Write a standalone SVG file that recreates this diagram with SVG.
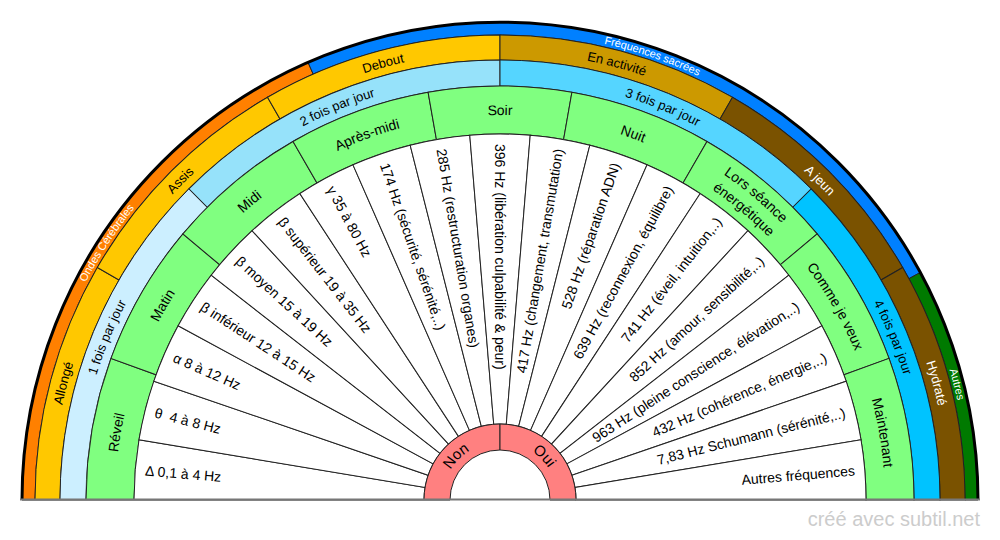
<svg xmlns="http://www.w3.org/2000/svg" width="1000" height="540" viewBox="0 0 1000 540">
<style>
  .s{stroke:#222;stroke-width:1}
  text{font-family:"Liberation Sans",Arial,Helvetica,sans-serif;fill:#000}
  .w{font-size:14px}
  .g{font-size:14px}
  .b{font-size:13px}
  .y{font-size:13px}
  .o{font-size:11px;fill:#fff}
  .r{font-size:15px}
  .wt{fill:#fff}
  .mark{font-size:20px;fill:#cccccc}
</style>
<defs>
  <path id="secW" d="M134,500 A366,366 0 0 1 138.99,439.76 L425.04,487.49 A76,76 0 0 0 424,500 Z"/>
  <path id="secG" d="M86,500 A414,414 0 0 1 110.97,358.40 L156.07,374.82 A366,366 0 0 0 134,500 Z"/>
  <path id="secB" d="M60,500 A440,440 0 0 1 188.87,188.87 L207.26,207.26 A414,414 0 0 0 86,500 Z"/>
  <path id="secY" d="M35,500 A465,465 0 0 1 97.30,267.5 L118.95,280 A440,440 0 0 0 60,500 Z"/>
  <path id="aO" d="M32,500 A468,468 0 0 1 968,500"/>
  <path id="aY" d="M52,500 A448,448 0 0 1 948,500"/>
  <path id="aB" d="M77.5,500 A422.5,422.5 0 0 1 922.5,500"/>
  <path id="aG" d="M115,500 A385,385 0 0 1 885,500"/>
  <path id="aG1" d="M105,500 A395,395 0 0 1 895,500"/>
  <path id="aG2" d="M124,500 A376,376 0 0 1 876,500"/>
  <path id="aR" d="M442,500 A58,58 0 0 1 558,500"/>
</defs>

<!-- Outer ring -->
<g id="ondes-cerebrales">
  <path class="s" fill="#FF8000" d="M22,500 A478,478 0 0 1 307.99,62.26 L313.21,74.17 A465,465 0 0 0 35,500 Z"/>
  <text class="o" text-anchor="middle"><textPath href="#aO" startOffset="18.421%">Ondes Cérébrales</textPath></text>
</g>
<g id="frequences-sacrees">
  <path class="s" fill="#0080FF" d="M307.99,62.26 A478,478 0 0 1 920.39,272.50 L908.95,278.68 A465,465 0 0 0 313.21,74.17 Z"/>
  <text class="o" text-anchor="middle"><textPath href="#aO" startOffset="60.526%">Fréquences sacrées</textPath></text>
</g>
<g id="autres">
  <path class="s" fill="#007A00" d="M920.39,272.50 A478,478 0 0 1 978,500 L965,500 A465,465 0 0 0 908.95,278.68 Z"/>
  <text class="o" text-anchor="middle"><textPath href="#aO" startOffset="92.105%">Autres</textPath></text>
</g>

<!-- Position ring -->
<g id="allonge">
  <use href="#secY" class="s" fill="#FFC800"/>
  <text class="y" text-anchor="middle"><textPath href="#aY" startOffset="8.333%">Allongé</textPath></text>
</g>
<g id="assis">
  <use href="#secY" class="s" fill="#FFC800" transform="rotate(30 500 500)"/>
  <text class="y" text-anchor="middle"><textPath href="#aY" startOffset="25%">Assis</textPath></text>
</g>
<g id="debout">
  <use href="#secY" class="s" fill="#FFC800" transform="rotate(60 500 500)"/>
  <text class="y" text-anchor="middle"><textPath href="#aY" startOffset="41.667%">Debout</textPath></text>
</g>
<g id="en-activite">
  <use href="#secY" class="s" fill="#CC9900" transform="rotate(90 500 500)"/>
  <text class="y" text-anchor="middle"><textPath href="#aY" startOffset="58.333%">En activité</textPath></text>
</g>
<g id="a-jeun">
  <use href="#secY" class="s" fill="#7A5200" transform="rotate(120 500 500)"/>
  <text class="y wt" text-anchor="middle"><textPath href="#aY" startOffset="75%">A jeun</textPath></text>
</g>
<g id="hydrate">
  <use href="#secY" class="s" fill="#7A5200" transform="rotate(150 500 500)"/>
  <text class="y wt" text-anchor="middle"><textPath href="#aY" startOffset="91.667%">Hydraté</textPath></text>
</g>

<!-- Frequency ring -->
<g id="fois-1">
  <use href="#secB" class="s" fill="#CCEFFF"/>
  <text class="b" text-anchor="middle"><textPath href="#aB" startOffset="12.5%">1 fois par jour</textPath></text>
</g>
<g id="fois-2">
  <use href="#secB" class="s" fill="#96E2FA" transform="rotate(45 500 500)"/>
  <text class="b" text-anchor="middle"><textPath href="#aB" startOffset="37.5%">2 fois par jour</textPath></text>
</g>
<g id="fois-3">
  <use href="#secB" class="s" fill="#55D5FF" transform="rotate(90 500 500)"/>
  <text class="b" text-anchor="middle"><textPath href="#aB" startOffset="62.5%">3 fois par jour</textPath></text>
</g>
<g id="fois-4">
  <use href="#secB" class="s" fill="#00C3FF" transform="rotate(135 500 500)"/>
  <text class="b" text-anchor="middle"><textPath href="#aB" startOffset="87.5%">4 fois par jour</textPath></text>
</g>

<!-- Moment ring -->
<g id="reveil">
  <use href="#secG" class="s" fill="#80FF80"/>
  <text class="g" text-anchor="middle"><textPath href="#aG" startOffset="5.556%">Réveil</textPath></text>
</g>
<g id="matin">
  <use href="#secG" class="s" fill="#80FF80" transform="rotate(20 500 500)"/>
  <text class="g" text-anchor="middle"><textPath href="#aG" startOffset="16.667%">Matin</textPath></text>
</g>
<g id="midi">
  <use href="#secG" class="s" fill="#80FF80" transform="rotate(40 500 500)"/>
  <text class="g" text-anchor="middle"><textPath href="#aG" startOffset="27.778%">Midi</textPath></text>
</g>
<g id="apres-midi">
  <use href="#secG" class="s" fill="#80FF80" transform="rotate(60 500 500)"/>
  <text class="g" text-anchor="middle"><textPath href="#aG" startOffset="38.889%">Après-midi</textPath></text>
</g>
<g id="soir">
  <use href="#secG" class="s" fill="#80FF80" transform="rotate(80 500 500)"/>
  <text class="g" text-anchor="middle"><textPath href="#aG" startOffset="50%">Soir</textPath></text>
</g>
<g id="nuit">
  <use href="#secG" class="s" fill="#80FF80" transform="rotate(100 500 500)"/>
  <text class="g" text-anchor="middle"><textPath href="#aG" startOffset="61.111%">Nuit</textPath></text>
</g>
<g id="lors-seance">
  <use href="#secG" class="s" fill="#80FF80" transform="rotate(120 500 500)"/>
  <text class="g" text-anchor="middle"><textPath href="#aG1" startOffset="72.222%">Lors séance</textPath></text>
  <text class="g" text-anchor="middle"><textPath href="#aG2" startOffset="72.222%">énergétique</textPath></text>
</g>
<g id="comme-je-veux">
  <use href="#secG" class="s" fill="#80FF80" transform="rotate(140 500 500)"/>
  <text class="g" text-anchor="middle"><textPath href="#aG" startOffset="83.333%">Comme je veux</textPath></text>
</g>
<g id="maintenant">
  <use href="#secG" class="s" fill="#80FF80" transform="rotate(160 500 500)"/>
  <text class="g" text-anchor="middle"><textPath href="#aG" startOffset="94.444%">Maintenant</textPath></text>
</g>

<!-- Inner white sectors -->
<g id="f00"><use href="#secW" class="s" fill="#fff"/>
  <text class="w" x="145.22" y="470.60" dy="0.35em" transform="rotate(4.7368 145.22 470.60)">Δ 0,1 à 4 Hz</text></g>
<g id="f01"><use href="#secW" class="s" fill="#fff" transform="rotate(9.4737 500 500)"/>
  <text class="w" xml:space="preserve" x="154.89" y="412.61" dy="0.35em" transform="rotate(14.2105 154.89 412.61)">θ  4 à 8 Hz</text></g>
<g id="f02"><use href="#secW" class="s" fill="#fff" transform="rotate(18.9474 500 500)"/>
  <text class="w" x="173.99" y="356.99" dy="0.35em" transform="rotate(23.6842 173.99 356.99)">α 8 à 12 Hz</text></g>
<g id="f03"><use href="#secW" class="s" fill="#fff" transform="rotate(28.4211 500 500)"/>
  <text class="w" x="201.97" y="305.29" dy="0.35em" transform="rotate(33.1579 201.97 305.29)">β inférieur 12 à 15 Hz</text></g>
<g id="f04"><use href="#secW" class="s" fill="#fff" transform="rotate(37.8947 500 500)"/>
  <text class="w" x="238.08" y="258.89" dy="0.35em" transform="rotate(42.6316 238.08 258.89)">β moyen 15 à 19 Hz</text></g>
<g id="f05"><use href="#secW" class="s" fill="#fff" transform="rotate(47.3684 500 500)"/>
  <text class="w" x="281.34" y="219.07" dy="0.35em" transform="rotate(52.1053 281.34 219.07)">β supérieur 19 à 35 Hz</text></g>
<g id="f06"><use href="#secW" class="s" fill="#fff" transform="rotate(56.8421 500 500)"/>
  <text class="w" x="330.56" y="186.91" dy="0.35em" transform="rotate(61.5789 330.56 186.91)">γ 35 à 80 Hz</text></g>
<g id="f07"><use href="#secW" class="s" fill="#fff" transform="rotate(66.3158 500 500)"/>
  <text class="w" x="384.41" y="163.29" dy="0.35em" transform="rotate(71.0526 384.41 163.29)">174 Hz (sécurité, sérénité,..)</text></g>
<g id="f08"><use href="#secW" class="s" fill="#fff" transform="rotate(75.7895 500 500)"/>
  <text class="w" x="441.41" y="148.86" dy="0.35em" transform="rotate(80.5263 441.41 148.86)">285 Hz (restructuration organes)</text></g>
<g id="f09"><use href="#secW" class="s" fill="#fff" transform="rotate(85.2632 500 500)"/>
  <text class="w" x="500" y="144" dy="0.35em" transform="rotate(90 500 144)">396 Hz (libération culpabilité &amp; peur)</text></g>
<g id="f10"><use href="#secW" class="s" fill="#fff" transform="rotate(94.7368 500 500)"/>
  <text class="w" text-anchor="end" x="558.59" y="148.86" dy="0.35em" transform="rotate(-80.5263 558.59 148.86)">417 Hz (changement, transmutation)</text></g>
<g id="f11"><use href="#secW" class="s" fill="#fff" transform="rotate(104.2105 500 500)"/>
  <text class="w" text-anchor="end" x="615.59" y="163.29" dy="0.35em" transform="rotate(-71.0526 615.59 163.29)">528 Hz (réparation ADN)</text></g>
<g id="f12"><use href="#secW" class="s" fill="#fff" transform="rotate(113.6842 500 500)"/>
  <text class="w" text-anchor="end" x="669.44" y="186.91" dy="0.35em" transform="rotate(-61.5789 669.44 186.91)">639 Hz (reconnexion, équilibre)</text></g>
<g id="f13"><use href="#secW" class="s" fill="#fff" transform="rotate(123.1579 500 500)"/>
  <text class="w" text-anchor="end" x="718.66" y="219.07" dy="0.35em" transform="rotate(-52.1053 718.66 219.07)">741 Hz (éveil, intuition,..)</text></g>
<g id="f14"><use href="#secW" class="s" fill="#fff" transform="rotate(132.6316 500 500)"/>
  <text class="w" text-anchor="end" x="761.92" y="258.89" dy="0.35em" transform="rotate(-42.6316 761.92 258.89)">852 Hz (amour, sensibilité,..)</text></g>
<g id="f15"><use href="#secW" class="s" fill="#fff" transform="rotate(142.1053 500 500)"/>
  <text class="w" text-anchor="end" x="798.03" y="305.29" dy="0.35em" transform="rotate(-33.1579 798.03 305.29)">963 Hz (pleine conscience, élévation,..)</text></g>
<g id="f16"><use href="#secW" class="s" fill="#fff" transform="rotate(151.5789 500 500)"/>
  <text class="w" text-anchor="end" x="826.01" y="356.99" dy="0.35em" transform="rotate(-23.6842 826.01 356.99)">432 Hz (cohérence, énergie,..)</text></g>
<g id="f17"><use href="#secW" class="s" fill="#fff" transform="rotate(161.0526 500 500)"/>
  <text class="w" text-anchor="end" x="845.11" y="412.61" dy="0.35em" transform="rotate(-14.2105 845.11 412.61)">7,83 Hz Schumann (sérénité,..)</text></g>
<g id="f18"><use href="#secW" class="s" fill="#fff" transform="rotate(170.5263 500 500)"/>
  <text class="w" text-anchor="end" x="854.78" y="470.60" dy="0.35em" transform="rotate(-4.7368 854.78 470.60)">Autres fréquences</text></g>

<!-- Center -->
<g id="non">
  <path class="s" fill="#FF8080" d="M424,500 A76,76 0 0 1 500,424 L500,450 A50,50 0 0 0 450,500 Z"/>
  <text class="r" text-anchor="middle"><textPath href="#aR" startOffset="25%">Non</textPath></text>
</g>
<g id="oui">
  <path class="s" fill="#FF8080" d="M500,424 A76,76 0 0 1 576,500 L550,500 A50,50 0 0 0 500,450 Z"/>
  <text class="r" text-anchor="middle"><textPath href="#aR" startOffset="75%">Oui</textPath></text>
</g>

<!-- Frame -->
<path d="M22,500 A478,478 0 0 1 978,500" fill="none" stroke="#000" stroke-width="3"/>
<line x1="20" y1="499.5" x2="980" y2="499.5" stroke="#777" stroke-width="2"/>

<text class="mark" x="980" y="526" text-anchor="end">créé avec subtil.net</text>
</svg>
